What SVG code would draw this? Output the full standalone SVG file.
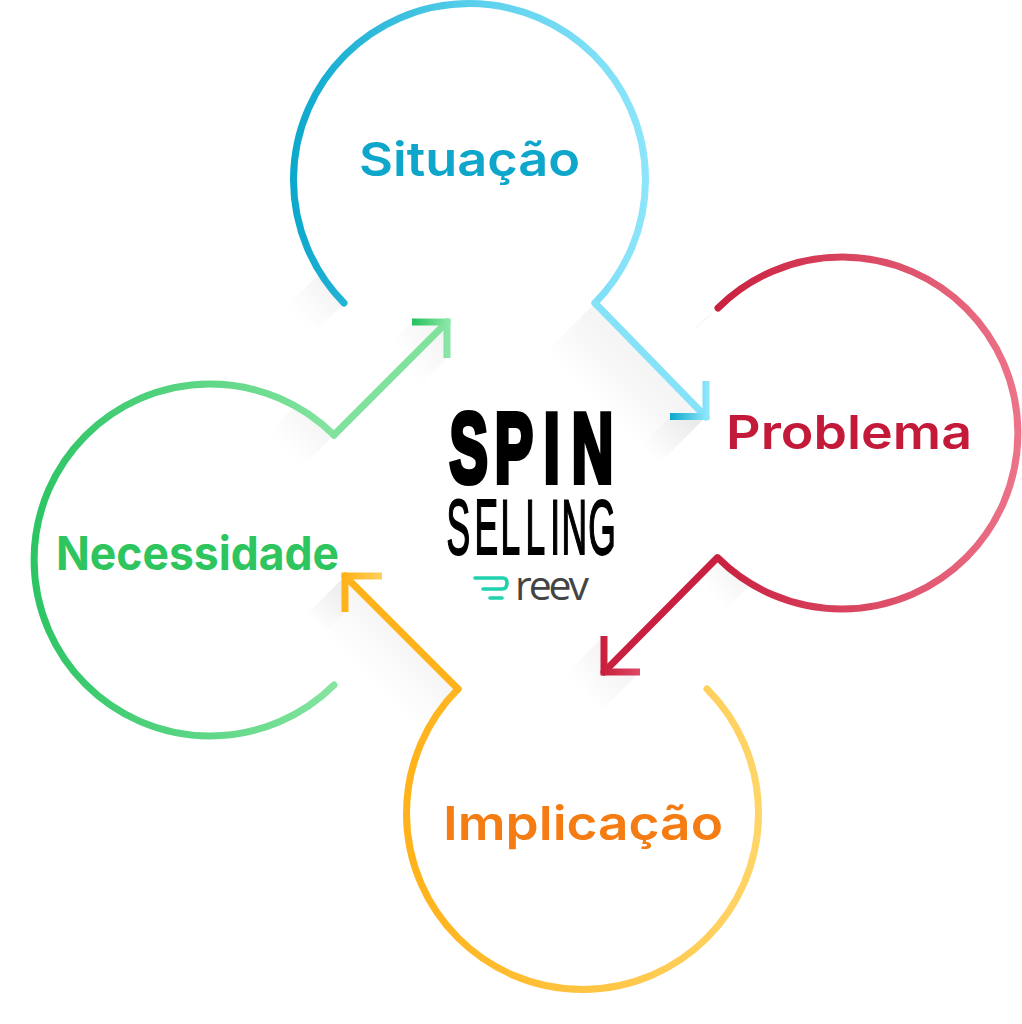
<svg xmlns="http://www.w3.org/2000/svg" width="1022" height="1024" viewBox="0 0 1022 1024">
<style>
.ring{fill:none;stroke-width:7;stroke-linecap:round;stroke-linejoin:round}
.line{fill:none;stroke-width:7;stroke-linecap:round}
.head{fill:none;stroke-width:7;stroke-linecap:butt;stroke-linejoin:miter}
.label{font-family:"Inter","Liberation Sans",sans-serif;font-weight:600;font-size:47px}
.shadow{stroke:none}
</style>
<defs>
<linearGradient id="gS" gradientUnits="userSpaceOnUse" x1="292" y1="0" x2="646" y2="0"><stop offset="0" stop-color="#0ca8cc"/><stop offset="0.55" stop-color="#5fd2ee"/><stop offset="1" stop-color="#8ce5fa"/></linearGradient>
<linearGradient id="gSh" gradientUnits="userSpaceOnUse" x1="670" y1="0" x2="706" y2="0"><stop offset="0" stop-color="#0ca8cc"/><stop offset="1" stop-color="#8ce5fa"/></linearGradient>
<linearGradient id="gP" gradientUnits="userSpaceOnUse" x1="716" y1="0" x2="1019" y2="0"><stop offset="0" stop-color="#c9203f"/><stop offset="1" stop-color="#ec7388"/></linearGradient>
<linearGradient id="gPh" gradientUnits="userSpaceOnUse" x1="604" y1="0" x2="640" y2="0"><stop offset="0" stop-color="#c9203f"/><stop offset="1" stop-color="#dd4a63"/></linearGradient>
<linearGradient id="gI" gradientUnits="userSpaceOnUse" x1="407" y1="0" x2="760" y2="0"><stop offset="0" stop-color="#ffb21a"/><stop offset="1" stop-color="#ffd568"/></linearGradient>
<linearGradient id="gIh" gradientUnits="userSpaceOnUse" x1="345" y1="0" x2="382" y2="0"><stop offset="0" stop-color="#ffb21a"/><stop offset="1" stop-color="#ffcf5c"/></linearGradient>
<linearGradient id="gN" gradientUnits="userSpaceOnUse" x1="33" y1="0" x2="334" y2="0"><stop offset="0" stop-color="#2cc564"/><stop offset="1" stop-color="#84e4a0"/></linearGradient>
<linearGradient id="gNh" gradientUnits="userSpaceOnUse" x1="412" y1="0" x2="447" y2="0"><stop offset="0" stop-color="#22c05c"/><stop offset="1" stop-color="#8ae6a6"/></linearGradient>
<linearGradient id="sh"><stop offset="0" stop-color="#000" stop-opacity="0.04"/><stop offset="1" stop-color="#000" stop-opacity="0"/></linearGradient>
<linearGradient id="s1" href="#sh" gradientUnits="userSpaceOnUse" x1="640" y1="370" x2="600" y2="410"/>
<linearGradient id="s2" href="#sh" gradientUnits="userSpaceOnUse" x1="400" y1="630" x2="360" y2="670"/>
<linearGradient id="s3" href="#sh" gradientUnits="userSpaceOnUse" x1="733" y1="568" x2="708" y2="593"/>
<linearGradient id="s4" href="#sh" gradientUnits="userSpaceOnUse" x1="315" y1="418" x2="285" y2="448"/>
<linearGradient id="s5" href="#sh" gradientUnits="userSpaceOnUse" x1="430" y1="322" x2="400" y2="352"/>
<linearGradient id="s6" href="#sh" gradientUnits="userSpaceOnUse" x1="447" y1="345" x2="412" y2="380"/>
<linearGradient id="s7" href="#sh" gradientUnits="userSpaceOnUse" x1="604" y1="655" x2="575" y2="684"/>
<linearGradient id="s8" href="#sh" gradientUnits="userSpaceOnUse" x1="330" y1="290" x2="300" y2="320"/>
<linearGradient id="s9" href="#sh" gradientUnits="userSpaceOnUse" x1="715" y1="310" x2="690" y2="335"/>
<linearGradient id="s10" href="#sh" gradientUnits="userSpaceOnUse" x1="345" y1="595" x2="315" y2="625"/>
<linearGradient id="s11" href="#sh" gradientUnits="userSpaceOnUse" x1="622" y1="672" x2="590" y2="704"/>
<linearGradient id="s12" href="#sh" gradientUnits="userSpaceOnUse" x1="688" y1="417" x2="650" y2="455"/>
</defs>
<rect width="1022" height="1024" fill="#fff"/>
<g id="shadows">
<polygon class="shadow" fill="url(#s1)" points="595,303 706,417 646,477 535,363"/>
<polygon class="shadow" fill="url(#s2)" points="458,689 345,576 285,636 398,749"/>
<polygon class="shadow" fill="url(#s3)" points="717,558 750,585 720,615 687,588"/>
<polygon class="shadow" fill="url(#s4)" points="334,435 296,405 256,445 294,475"/>
<polygon class="shadow" fill="url(#s5)" points="447,322 412,322 372,362 407,362"/>
<polygon class="shadow" fill="url(#s6)" points="447,322 447,358 407,398 407,362"/>
<polygon class="shadow" fill="url(#s7)" points="604,636 604,672 564,712 564,676"/>
<polygon class="shadow" fill="url(#s11)" points="604,672 640,672 600,712 564,712"/>
<polygon class="shadow" fill="url(#s8)" points="344,303 318,275 278,315 304,343"/>
<polygon class="shadow" fill="url(#s9)" points="718,308 700,322 665,357 683,343"/>
<polygon class="shadow" fill="url(#s10)" points="345,576 345,612 305,652 305,616"/>
<polygon class="shadow" fill="url(#s12)" points="670,417 706,417 666,457 630,457"/>
</g>
<g id="node-situacao">
<path class="ring" stroke="url(#gS)" d="M344 303A176 176 0 1 1 595 303"/>
<text class="label" fill="#0ea6ca" x="359" y="176" textLength="221" lengthAdjust="spacingAndGlyphs">Situação</text>
</g>
<g id="node-problema">
<path class="ring" stroke="url(#gP)" d="M718 308A176 176 0 1 1 718 558"/>
<text class="label" fill="#c41a3a" x="726" y="449" textLength="246" lengthAdjust="spacingAndGlyphs">Problema</text>
</g>
<g id="node-implicacao">
<path class="ring" stroke="url(#gI)" d="M707 689A176 176 0 1 1 458 689"/>
<text class="label" fill="#f47c12" x="443" y="840" textLength="280" lengthAdjust="spacingAndGlyphs">Implicação</text>
</g>
<g id="node-necessidade">
<path class="ring" stroke="url(#gN)" d="M334 685A176 176 0 1 1 334 435"/>
<text class="label" style="font-weight:700" fill="#2ec45e" x="56" y="570" textLength="283" lengthAdjust="spacingAndGlyphs">Necessidade</text>
</g>
<g id="center-title">
<text transform="translate(0 482) scale(.58 1)" x="774.800 852.900 937.400 985.700" y="0" font-family="Liberation Sans,sans-serif" font-weight="700" font-size="99" fill="#000" stroke="#000" stroke-width="6">SPIN</text>
<text transform="translate(0 554) scale(.46 1)" x="970.900 1031.700 1088.300 1142.600 1196.100 1220.900 1279" y="0" font-family="Liberation Sans,sans-serif" font-size="77" fill="#000" stroke="#000" stroke-width="2">SELLING</text>
<path d="M475 578H503Q507 578 507 583Q507 589 502 589H483M490 598H502" fill="none" stroke="#1fd1ac" stroke-width="3.600" stroke-linecap="round"/>
<text x="515" y="600" font-family="Open Sans,sans-serif" font-size="41" fill="#444" textLength="74" lengthAdjust="spacing">reev</text>
</g>
<g id="connectors">
<path class="line" stroke="#85e2f8" d="M595 303L706 417"/>
<path class="head" stroke="url(#gSh)" d="M670 416.500H706V381"/>
<path class="line" stroke="#c9203f" d="M717 558L604 672"/>
<path class="head" stroke="url(#gPh)" d="M604 636V672H640"/>
<path class="line" stroke="#ffb21a" d="M458 689L345 576"/>
<path class="head" stroke="url(#gIh)" d="M345 612V576H382"/>
<path class="line" stroke="#80e29c" d="M334 435L447 322"/>
<path class="head" stroke="url(#gNh)" d="M412 322H447V358"/>
</g>
</svg>
